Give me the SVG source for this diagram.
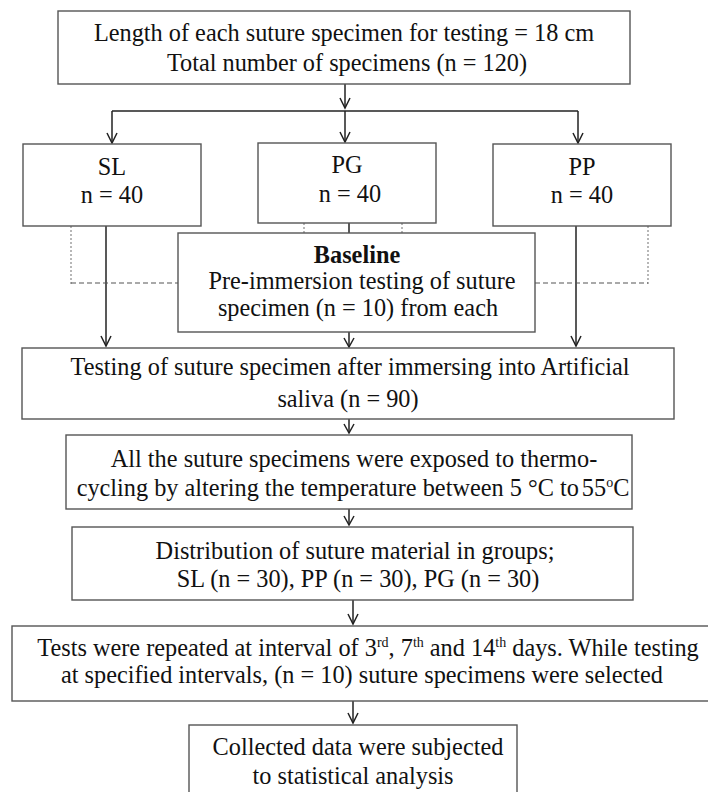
<svg xmlns="http://www.w3.org/2000/svg" width="708" height="792" viewBox="0 0 708 792">
<style>
.box{fill:#fff;stroke:#555;stroke-width:1.4}
.t{font-family:"Liberation Serif","Times New Roman",serif;font-size:24.3px;fill:#111;text-anchor:middle}
.b{font-weight:bold}
.s{font-size:14px}
.ln{stroke:#222;stroke-width:1.5;fill:none}
.ah{stroke:#222;stroke-width:1.5;fill:none}
.dash{stroke:#555;stroke-width:1.2;stroke-dasharray:5 3;fill:none}
.dot{stroke:#888;stroke-width:1.2;stroke-dasharray:2 2;fill:none}
</style>
<rect width="708" height="792" fill="#fff"/>
<g id="connectors">
<line class="ln" x1="345" y1="84" x2="345" y2="108"/>
<polyline class="ah" points="340,98 345,108 350,98"/>
<line class="ln" x1="112" y1="111" x2="578" y2="111"/>
<line class="ln" x1="112" y1="111" x2="112" y2="143"/>
<polyline class="ah" points="107,133 112,143 117,133"/>
<line class="ln" x1="345" y1="111" x2="345" y2="142"/>
<polyline class="ah" points="340,132 345,142 350,132"/>
<line class="ln" x1="578" y1="111" x2="578" y2="143"/>
<polyline class="ah" points="573,133 578,143 583,133"/>
<line class="ln" x1="106" y1="226" x2="106" y2="346"/>
<polyline class="ah" points="101,336 106,346 111,336"/>
<line class="ln" x1="576" y1="226" x2="576" y2="346"/>
<polyline class="ah" points="571,336 576,346 581,336"/>
<line class="ln" x1="349" y1="223" x2="349" y2="233"/>
<line class="dot" x1="304" y1="223" x2="304" y2="233"/>
<line class="dot" x1="402" y1="223" x2="402" y2="233"/>
<line class="ln" x1="349" y1="332" x2="349" y2="347"/>
<polyline class="ah" points="344,338 349,347 354,338"/>
<polyline class="dot" points="71,226 71,286"/>
<line class="dash" x1="71" y1="283" x2="178" y2="283"/>
<polyline class="dot" points="648,226 648,286"/>
<line class="dash" x1="535" y1="283" x2="648" y2="283"/>
<line class="ln" x1="349" y1="419" x2="349" y2="433"/>
<polyline class="ah" points="344,424 349,433 354,424"/>
<line class="ln" x1="349" y1="509" x2="349" y2="525"/>
<polyline class="ah" points="344,516 349,525 354,516"/>
<line class="ln" x1="353" y1="600" x2="353" y2="624"/>
<polyline class="ah" points="348,614 353,624 358,614"/>
<line class="ln" x1="353" y1="701" x2="353" y2="723"/>
<polyline class="ah" points="348,713 353,723 358,713"/>
</g>
<g id="n-top">
<rect class="box" x="58" y="11" width="572" height="73"/>
<text class="t" x="344" y="41">Length of each suture specimen for testing = 18 cm</text>
<text class="t" x="347" y="71">Total number of specimens (n = 120)</text>
</g>
<g id="n-sl">
<rect class="box" x="23" y="144" width="178" height="82"/>
<text class="t" x="112" y="175">SL</text>
<text class="t" x="112" y="203">n = 40</text>
</g>
<g id="n-pg">
<rect class="box" x="258" y="143" width="178" height="80"/>
<text class="t" x="347" y="173">PG</text>
<text class="t" x="350" y="202">n = 40</text>
</g>
<g id="n-pp">
<rect class="box" x="493" y="144" width="178" height="82"/>
<text class="t" x="582" y="175">PP</text>
<text class="t" x="582" y="203">n = 40</text>
</g>
<g id="n-baseline">
<rect class="box" x="178" y="233" width="357" height="99"/>
<text class="t b" x="357" y="263">Baseline</text>
<text class="t" x="362" y="289">Pre-immersion testing of suture</text>
<text class="t" x="358" y="316">specimen (n = 10) from each</text>
</g>
<g id="n-testing">
<rect class="box" x="22" y="348" width="652" height="71"/>
<text class="t" x="350" y="375">Testing of suture specimen after immersing into Artificial</text>
<text class="t" x="348" y="407">saliva (n = 90)</text>
</g>
<g id="n-thermo">
<rect class="box" x="66" y="435" width="566" height="74"/>
<text class="t" x="354" y="467">All the suture specimens were exposed to thermo-</text>
<text class="t" x="353" y="496">cycling by altering the temperature between 5 °C to<tspan dx="3">55</tspan><tspan class="s" dy="-9">o</tspan><tspan dy="9">C</tspan></text>
</g>
<g id="n-dist">
<rect class="box" x="72" y="527" width="561" height="73"/>
<text class="t" x="355" y="559">Distribution of suture material in groups;</text>
<text class="t" x="358" y="587">SL (n = 30), PP (n = 30), PG (n = 30)</text>
</g>
<g id="n-tests">
<rect class="box" x="12" y="626" width="700" height="75"/>
<text class="t" x="368" y="656">Tests were repeated at interval of 3<tspan class="s" dy="-9">rd</tspan><tspan dy="9">, 7</tspan><tspan class="s" dy="-9">th</tspan><tspan dy="9"> and 14</tspan><tspan class="s" dy="-9">th</tspan><tspan dy="9"> days. While testing</tspan></text>
<text class="t" x="362" y="683">at specified intervals, (n = 10) suture specimens were selected</text>
</g>
<g id="n-collected">
<rect class="box" x="189" y="725" width="328" height="72"/>
<text class="t" x="358" y="755">Collected data were subjected</text>
<text class="t" x="353" y="784">to statistical analysis</text>
</g>
</svg>
